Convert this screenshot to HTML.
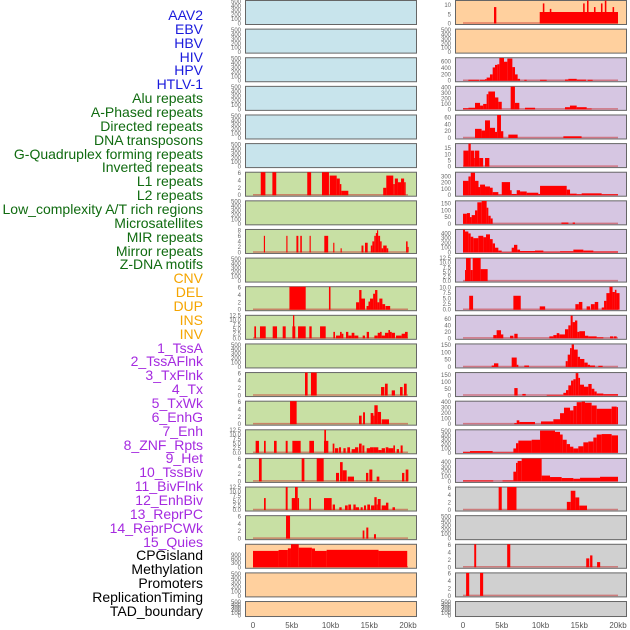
<!DOCTYPE html>
<html><head><meta charset="utf-8">
<style>
html,body{margin:0;padding:0;background:#fff;}
body{width:630px;height:630px;overflow:hidden;position:relative;font-family:"Liberation Sans",sans-serif;}
#labels div{position:absolute;right:427px;font-size:14px;line-height:14px;white-space:nowrap;}
svg{position:absolute;left:0;top:0;}
</style></head><body>
<div id="labels">
<div style="top:8px;color:#1a1adc">AAV2</div>
<div style="top:22px;color:#1a1adc">EBV</div>
<div style="top:36px;color:#1a1adc">HBV</div>
<div style="top:50px;color:#1a1adc">HIV</div>
<div style="top:63px;color:#1a1adc">HPV</div>
<div style="top:77px;color:#1a1adc">HTLV-1</div>
<div style="top:91px;color:#106b10">Alu repeats</div>
<div style="top:105px;color:#106b10">A-Phased repeats</div>
<div style="top:119px;color:#106b10">Directed repeats</div>
<div style="top:133px;color:#106b10">DNA transposons</div>
<div style="top:147px;color:#106b10">G-Quadruplex forming repeats</div>
<div style="top:160px;color:#106b10">Inverted repeats</div>
<div style="top:174px;color:#106b10">L1 repeats</div>
<div style="top:188px;color:#106b10">L2 repeats</div>
<div style="top:202px;color:#106b10">Low_complexity A/T rich regions</div>
<div style="top:216px;color:#106b10">Microsatellites</div>
<div style="top:230px;color:#106b10">MIR repeats</div>
<div style="top:244px;color:#106b10">Mirror repeats</div>
<div style="top:257px;color:#106b10">Z-DNA motifs</div>
<div style="top:271px;color:#f5a500">CNV</div>
<div style="top:285px;color:#f5a500">DEL</div>
<div style="top:299px;color:#f5a500">DUP</div>
<div style="top:313px;color:#f5a500">INS</div>
<div style="top:327px;color:#f5a500">INV</div>
<div style="top:341px;color:#a52ae0">1_TssA</div>
<div style="top:354px;color:#a52ae0">2_TssAFlnk</div>
<div style="top:368px;color:#a52ae0">3_TxFlnk</div>
<div style="top:382px;color:#a52ae0">4_Tx</div>
<div style="top:396px;color:#a52ae0">5_TxWk</div>
<div style="top:410px;color:#a52ae0">6_EnhG</div>
<div style="top:424px;color:#a52ae0">7_Enh</div>
<div style="top:438px;color:#a52ae0">8_ZNF_Rpts</div>
<div style="top:451px;color:#a52ae0">9_Het</div>
<div style="top:465px;color:#a52ae0">10_TssBiv</div>
<div style="top:479px;color:#a52ae0">11_BivFlnk</div>
<div style="top:493px;color:#a52ae0">12_EnhBiv</div>
<div style="top:507px;color:#a52ae0">13_ReprPC</div>
<div style="top:521px;color:#a52ae0">14_ReprPCWk</div>
<div style="top:535px;color:#a52ae0">15_Quies</div>
<div style="top:548px;color:#000">CPGisland</div>
<div style="top:562px;color:#000">Methylation</div>
<div style="top:576px;color:#000">Promoters</div>
<div style="top:590px;color:#000">ReplicationTiming</div>
<div style="top:604px;color:#000">TAD_boundary</div>
</div>
<svg id="chart" width="630" height="630"></svg>
<script>
// ---- data: [startKb, endKb, value] segments ----
const xTicks = [0,5,10,15,20];
const xTickLabels = ["0","5kb","10kb","15kb","20kb"];
const L06 = [[1.0,1.6,6.2],[2.5,3.0,6.2],[7.0,7.5,6.2],[8.9,9.8,6.2],[9.9,10.8,5.3],[10.8,11.2,4.5],[11.2,11.4,3],[11.4,12.3,1.2],[16.8,17.2,2],[17.2,18.1,5.3],[18.1,18.3,3],[18.3,18.7,4.5],[18.7,19.1,3.5],[19.1,19.5,4.5],[19.5,19.7,3.5]];
const L08 = [[1.4,1.55,6],[4.3,4.45,6],[5.6,5.85,6],[6.1,6.3,6],[7.3,7.45,6],[9.2,9.7,6],[10.35,10.5,3.5],[11.3,11.45,1.5],[14.0,14.25,2.5],[14.45,14.8,3.5],[15.2,15.4,2.5],[15.4,15.65,4],[15.65,15.85,6],[15.85,16.0,7],[16.0,16.15,8],[16.15,16.4,6],[16.4,16.6,4],[16.6,16.8,1.5],[16.8,17.25,2.5],[17.25,17.45,1.5],[19.75,19.95,4],[19.95,20.05,2]];
const L10 = [[4.7,6.8,6.2],[9.8,10.0,6.2],[13.3,13.7,2],[13.7,14.0,5.3],[14.0,14.45,3],[14.65,14.9,1],[14.9,15.1,2.2],[15.1,15.5,3],[15.5,15.75,4.3],[15.75,16.05,5.3],[16.05,16.3,2],[16.3,16.7,3],[16.7,17.05,1.5],[17.1,17.7,1]];
const L11 = [[0.17,0.39,6.5],[0.9,1.64,6.5],[2.54,3.1,6.5],[3.83,4.22,6.5],[5.08,5.46,6.5],[5.16,5.33,12.5],[5.81,6.8,6.5],[7.27,7.57,6.5],[8.65,9.38,6.5],[10.37,10.58,3.5],[10.71,11.23,1.5],[11.23,11.44,3.5],[11.44,11.66,2.5],[12.0,12.3,3.5],[12.3,12.73,1.5],[12.73,13.08,3],[13.08,13.59,1.5],[14.15,14.45,1.5],[14.67,14.97,3.5],[15.66,16.09,1.5],[16.09,16.39,3],[16.39,16.6,3.5],[16.6,17.03,1.5],[17.03,17.47,3],[17.47,17.68,4.5],[17.68,17.9,3.5],[17.9,18.32,3],[18.45,19.18,1.5],[19.18,19.61,2.5],[19.61,19.96,3.5]];
const L13 = [[6.71,7.05,6.2],[7.48,8.22,6.2],[16.52,16.95,2.3],[17.03,17.38,3.2],[17.9,18.32,1.4],[18.97,19.31,2.3],[19.48,19.83,3.2]];
const L14 = [[4.78,5.63,6.2],[13.68,14.02,2.3],[14.2,14.45,3.2],[15.18,15.53,3],[15.53,15.66,2.3],[15.66,16.09,5.1],[16.09,16.52,3.3],[16.6,17.55,1.3]];
const L15 = [[0.34,0.77,6.5],[1.42,1.64,6.5],[2.71,3.05,6.5],[4.22,4.47,6.5],[5.08,6.15,6.5],[7.27,7.87,6.5],[9.16,9.72,6.5],[9.2,9.42,12.5],[10.28,10.5,5],[10.58,11.01,2.5],[11.1,11.36,3],[11.66,11.96,2.5],[12.17,12.52,3],[12.73,13.16,2],[13.16,13.59,3],[13.68,14.02,5],[14.11,14.37,4],[14.67,15.1,2.5],[15.1,15.53,3],[15.53,16.17,3],[16.17,16.6,1.5],[16.6,17.03,2.5],[17.12,17.47,3],[17.47,18.11,2.5],[18.11,18.32,4],[18.54,18.84,2],[19.05,19.31,4]];
const L16 = [[0.77,1.12,6.2],[6.28,6.63,6.2],[8.22,9.12,6.2],[10.71,11.1,2.3],[11.23,11.57,5.2],[11.57,12.09,3],[12.22,13.03,1.3],[14.58,14.88,2.3],[15.01,15.4,3.2],[15.96,16.3,1.3],[19.23,19.53,2.3],[19.7,20.05,3.2]];
const L17 = [[1.42,1.64,6.5],[4.22,4.47,12.5],[5.0,5.42,6.5],[5.42,5.77,12.5],[5.77,5.94,6.5],[7.27,7.48,6.5],[9.16,10.15,6.5],[10.28,10.58,3],[11.14,11.44,1.5],[11.87,12.22,2.5],[12.3,12.65,3],[12.95,13.25,3],[13.25,13.68,1.5],[13.89,14.15,1.5],[14.32,14.58,2.5],[14.75,15.1,3],[15.23,15.66,2.5],[15.66,15.96,7],[15.96,16.09,3],[16.09,16.47,6],[16.6,17.16,2.5],[17.16,17.47,4],[18.0,18.32,1.5]];
const L18 = [[4.26,4.78,6.2],[14.15,14.37,2.2],[14.62,14.88,3],[15.61,15.87,1.2]];
const L19 = [[0,3.3,1210],[3.3,4.5,1280],[4.5,4.9,1400],[4.9,5.9,1700],[5.9,7.6,1450],[7.6,8.0,1390],[8.0,9.5,1210],[9.5,16.2,1290],[16.2,19.9,1210]];
const R00 = [[4.0,4.3,9],[9.9,20.0,6.3],[10.3,10.5,11],[11.2,11.4,8],[15.5,15.7,11],[16.0,16.2,12.6],[16.9,17.1,9],[17.8,18.0,11],[18.3,18.5,12.6],[19.3,19.5,9]];
const R02 = [[0.69,2.1,30],[2.19,2.84,30],[2.84,3.05,50],[3.05,3.48,100],[3.48,3.83,200],[3.83,4.13,420],[4.13,4.43,500],[4.43,4.69,520],[4.69,5.29,720],[5.29,5.72,600],[5.72,6.37,700],[6.37,6.71,430],[6.71,7.05,200],[7.05,7.36,60],[7.91,8.22,30],[9.94,10.8,30],[13.16,13.59,40],[13.59,14.67,60],[14.67,15.87,35],[16.09,16.73,30]];
const R03 = [[0,0.7,20],[0.7,1.55,30],[1.55,2.2,120],[2.2,2.6,70],[2.6,3.05,100],[3.05,3.27,280],[3.27,4.13,330],[4.13,4.56,220],[4.56,5.0,140],[6.15,6.7,420],[6.7,7.27,120],[8.0,9.3,30],[13.16,13.8,40],[13.8,14.67,70],[14.67,15.96,40],[15.96,16.6,15]];
const R04 = [[1.55,2.4,27],[2.4,2.84,22],[2.84,3.48,52],[3.48,4.13,30],[4.13,4.4,18],[4.4,4.9,68],[4.9,5.2,20],[5.85,7.05,10],[12.95,15.3,5]];
const R05 = [[0.05,0.7,13],[0.7,1.0,18.7],[1.0,1.46,13],[1.46,1.55,7],[1.55,2.1,13],[2.1,2.6,7],[2.84,3.4,7]];
const R06 = [[0,0.7,230],[0.7,1.0,300],[1.0,1.55,360],[1.55,2.0,230],[2.0,2.2,130],[2.2,2.84,170],[2.84,3.48,140],[3.48,3.83,120],[3.83,4.56,50],[4.56,5.0,10],[5.0,6.07,210],[6.07,6.28,80],[6.28,6.93,20],[6.93,7.36,80],[7.36,8.22,60],[8.22,9.72,40],[9.72,9.94,20],[9.94,13.38,150],[13.38,13.81,90],[13.81,14.67,25],[14.67,15.31,15],[15.31,17.89,30],[17.89,20,15]];
const R07 = [[0,0.5,75],[0.5,0.9,80],[0.9,1.12,50],[1.12,1.55,65],[1.55,1.85,100],[1.85,2.41,160],[2.41,3.05,170],[3.05,3.27,120],[3.27,3.57,60],[3.57,3.83,40],[12.7,13.6,10],[14.15,14.45,10]];
const R08 = [[0,0.26,480],[0.26,0.69,440],[0.69,0.99,400],[0.99,1.33,330],[1.33,1.98,300],[1.98,2.62,350],[2.62,2.97,320],[2.97,3.48,380],[3.48,3.83,280],[3.83,4.13,190],[4.13,4.56,100],[4.56,4.99,40],[4.99,6.28,10],[6.28,6.58,100],[6.58,7.01,160],[7.01,7.36,60],[7.36,9.29,30],[9.29,10.37,40],[10.37,12.52,15],[12.52,14.24,25],[14.24,15.53,60],[15.53,16.82,40],[16.82,20,20]];
const R09 = [[0.26,0.39,6],[0.39,0.99,12.5],[0.99,1.25,6],[1.25,2.28,12.5],[2.28,3.18,6.5]];
const R10 = [[0.8,1.3,6.3],[6.5,7.45,6.3],[9.9,10.6,1.5],[14.5,14.95,2.5],[14.95,15.4,3.5],[15.95,16.4,1.5],[16.5,17.0,2.5],[17.0,17.45,3.5],[17.9,18.2,1],[18.2,18.5,4],[18.5,18.9,7.5],[18.9,19.3,10.4],[19.3,19.6,8],[19.6,19.8,9],[19.8,20.2,7.5]];
const R11 = [[3.91,4.34,10],[4.34,4.9,25],[4.9,5.2,12],[6.07,6.5,8],[6.62,7.05,14],[11.14,11.66,6],[11.66,12.09,10],[12.09,12.43,16],[12.43,13.16,12],[13.16,13.59,28],[13.59,13.89,40],[13.89,14.15,70],[14.15,14.45,50],[14.45,14.75,55],[14.75,15.01,20],[15.01,15.74,22],[15.74,16.17,8],[16.17,17.25,6],[17.25,18.11,3],[18.97,19.4,6],[19.48,19.83,6]];
const R12 = [[3.7,4.0,10],[4.0,4.56,25],[6.28,6.93,65],[6.93,7.14,15],[7.91,8.52,10],[13.25,13.51,40],[13.51,13.81,85],[13.81,14.02,130],[14.02,14.32,155],[14.32,14.8,120],[14.8,15.1,70],[15.1,15.66,55],[15.66,16.09,30],[16.09,16.39,15],[16.39,17.03,10],[17.46,18.02,8]];
const R13 = [[6.62,7.05,55],[7.66,8.09,12],[10.8,12.95,5],[12.95,13.29,20],[13.29,13.59,40],[13.59,13.94,75],[13.94,14.24,110],[14.24,14.54,120],[14.54,14.88,165],[14.88,15.1,130],[15.1,15.61,80],[15.61,16.17,65],[16.17,16.6,85],[16.6,16.95,50],[16.95,17.25,30],[17.25,18.11,15],[18.11,20,10]];
const R14 = [[6.62,6.93,20],[6.93,7.27,70],[7.27,9.29,40],[10.06,11.66,50],[11.66,12.52,90],[12.52,13.03,200],[13.03,13.81,300],[13.81,14.24,250],[14.24,14.67,330],[14.67,15.31,400],[15.31,15.74,410],[15.74,16.6,390],[16.6,17.25,340],[17.25,19.18,280],[19.18,19.83,320],[19.83,20,310]];
const R15 = [[0,0.9,20],[0.9,3.83,40],[3.83,6.5,10],[6.5,6.84,100],[6.84,7.14,220],[7.14,8.86,280],[8.86,9.94,300],[9.94,11.87,510],[11.87,12.52,480],[12.52,12.86,420],[12.86,13.38,300],[13.38,13.81,200],[13.81,14.24,140],[14.24,14.88,100],[14.88,15.53,150],[15.53,16.17,240],[16.17,16.82,260],[16.82,17.25,350],[17.25,17.89,420],[17.89,19.18,430],[19.18,20,400]];
const R16 = [[0,3.9,20],[5.1,6.5,20],[6.5,6.84,200],[6.84,7.05,380],[7.05,7.57,420],[7.57,10.15,470],[10.15,11.23,120],[11.23,12.73,90],[12.73,14.24,70],[14.24,15.1,55],[15.1,17.68,75],[17.68,20,95]];
const R17 = [[4.6,5.0,6.2],[5.7,6.9,6.2],[13.4,13.9,2.2],[13.9,14.5,5.2],[14.5,15.0,3.4],[15.0,16.0,1.2]];
const R19 = [[1.45,1.7,6.2],[5.7,6.1,6.2],[15.9,16.3,2.4],[16.4,16.7,3.2],[17.3,17.7,1.4]];
const R20 = [[0.4,0.8,6.2],[2.2,2.6,6.2]];
const T6 = [0,2,4,6], T8=[0,2,4,6,8], T125=["0.0","2.5","5.0","7.5","10.0","12.5"], T500=[0,100,200,300,400,500];

const BLUE="#c8e4ec", GREEN="#c8e0a4", ORANGE="#ffd09e", PURPLE="#d6c6e2", GREY="#d0d0d0";
const panels = [];
function P(col,row,bg,ymax,ticks,data){panels.push({col,row,bg,ymax,ticks,data});}
for(let r=0;r<6;r++) P(0,r,BLUE,520,T500,null);
P(0,6,GREEN,6.2,T6,L06); P(0,7,GREEN,520,T500,null); P(0,8,GREEN,8.3,T8,L08); P(0,9,GREEN,520,T500,null);
P(0,10,GREEN,6.2,T6,L10); P(0,11,GREEN,12.5,T125,L11); P(0,12,GREEN,520,T500,null); P(0,13,GREEN,6.2,T6,L13);
P(0,14,GREEN,6.2,T6,L14); P(0,15,GREEN,12.5,T125,L15); P(0,16,GREEN,6.2,T6,L16); P(0,17,GREEN,12.5,T125,L17);
P(0,18,GREEN,6.2,T6,L18); P(0,19,ORANGE,1700,[0,300,600,900],L19); P(0,20,ORANGE,520,T500,null); P(0,21,ORANGE,520,T500,null);
P(1,0,ORANGE,12.6,[0,5,10],R00); P(1,1,ORANGE,520,T500,null);
P(1,2,PURPLE,726,[0,200,400,600],R02); P(1,3,PURPLE,425,[0,100,200,300,400],R03); P(1,4,PURPLE,68,[0,20,40,60],R04);
P(1,5,PURPLE,18.7,[0,5,10,15],R05); P(1,6,PURPLE,368,[0,100,200,300],R06); P(1,7,PURPLE,171,[0,50,100,150],R07);
P(1,8,PURPLE,483,[0,100,200,300,400],R08); P(1,9,PURPLE,12.5,T125,R09); P(1,10,PURPLE,10.4,["0.0","2.5","5.0","7.5","10.0"],R10);
P(1,11,PURPLE,71,[0,20,40,60],R11); P(1,12,PURPLE,159,[0,50,100,150],R12); P(1,13,PURPLE,169,[0,50,100,150],R13);
P(1,14,PURPLE,418,[0,100,200,300,400],R14); P(1,15,PURPLE,528,T500,R15); P(1,16,PURPLE,472,[0,100,200,300,400],R16);
P(1,17,GREY,6.2,T6,R17); P(1,18,GREY,520,T500,null); P(1,19,GREY,6.2,T6,R19); P(1,20,GREY,6.2,T6,R20); P(1,21,GREY,520,T500,null);

const NS="http://www.w3.org/2000/svg";
const svg=document.getElementById('chart');
function mk(t,a,p){const e=document.createElementNS(NS,t);for(const k in a)e.setAttribute(k,a[k]);(p||svg).appendChild(e);return e;}
const COLX=[245,455], PW=171, KB=7.75;
function xScale(col,kb){return COLX[col]+8+kb*KB;}
panels.forEach(p=>{
  const top=p.row*28.62, h=p.row===21?16:25, bottom=top+h, base=bottom-1.5;
  const yScale=v=>base-(v/p.ymax)*(base-top-0.5);
  const g=mk('g',{});
  
  
  mk('rect',{x:COLX[p.col]+0.5,y:top+0.5,width:PW,height:h-1,fill:p.bg,stroke:'#666','stroke-width':1},g);
  p.ticks.forEach(t=>{
    const v=parseFloat(t);
    const tx=mk('text',{x:COLX[p.col]-4,y:yScale(v)+2,'font-size':6,fill:'#666','text-anchor':'end','font-family':'Liberation Sans, sans-serif'},g);
    tx.textContent=t;
    
    
  });
  if(p.data){
    mk('line',{x1:xScale(p.col,0),x2:xScale(p.col,20),y1:base-0.5,y2:base-0.5,stroke:'rgba(200,40,40,0.5)','stroke-width':1.5},g);
    p.data.forEach(d=>{
      const x1=xScale(p.col,d[0]), x2=xScale(p.col,d[1]);
      const y=yScale(d[2]);
      const r=mk('rect',{x:x1,y:y,width:Math.max(1,x2-x1),height:base-y,fill:'#ff0000'},g);
      
      
    });
  }
});
[0,1].forEach(col=>{
  xTicks.forEach((t,i)=>{
    const tx=mk('text',{x:xScale(col,t),y:628,'font-size':8,fill:'#555','text-anchor':'middle','font-family':'Liberation Sans, sans-serif'});
    tx.textContent=xTickLabels[i];
    
    
  });
});
</script>
</body></html>
